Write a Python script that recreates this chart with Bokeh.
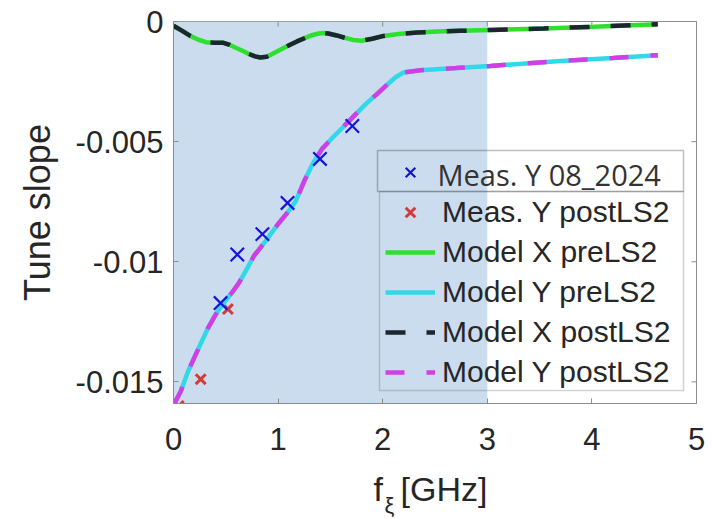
from bokeh.plotting import figure
from bokeh.layouts import column
from bokeh.models import (Range1d, FixedTicker, BoxAnnotation, Label, Legend, LegendItem)
from bokeh.embed import file_html
from bokeh.resources import INLINE

# ---------------- data ----------------
x_ticks = [0, 1, 2, 3, 4, 5]
x_tick_labels = ["0", "1", "2", "3", "4", "5"]
y_ticks = [0.0, -0.005, -0.01, -0.015]
y_tick_labels = ["0", "-0.005", "-0.01", "-0.015"]
x_min, x_max = 0.0, 5.0
y_min, y_max = -0.0159, 0.0

shade_start = 0.0
shade_end = 3.0

model_x_f = [0.0, 0.08, 0.16, 0.24, 0.31, 0.39, 0.47, 0.53, 0.59, 0.66, 0.72, 0.78, 0.83,
             0.89, 0.94, 1.02, 1.10, 1.18, 1.26, 1.33, 1.39, 1.44, 1.48, 1.56, 1.64, 1.72,
             1.80, 1.90, 2.01, 2.15, 2.33, 2.52, 2.74, 3.03, 3.54, 4.02, 4.63]
model_x_s = [-0.00018, -0.00038, -0.0006, -0.00076, -0.00086, -0.00088, -0.00088, -0.00096,
             -0.00108, -0.00122, -0.00135, -0.00145, -0.0015, -0.00147, -0.00136, -0.00118,
             -0.00100, -0.00083, -0.00068, -0.00056, -0.0005, -0.00048, -0.0005, -0.00058,
             -0.00068, -0.00077, -0.0008, -0.00072, -0.0006, -0.00052, -0.00046, -0.00042,
             -0.00039, -0.00035, -0.00029, -0.00022, -0.00011]

model_y_f = [0.0, 0.02, 0.07, 0.14, 0.24, 0.33, 0.40, 0.47, 0.57, 0.63, 0.69, 0.77, 0.88,
             1.0, 1.1, 1.17, 1.25, 1.33, 1.42, 1.52, 1.62, 1.71, 1.84, 1.95, 2.05, 2.12,
             2.2, 2.36, 2.7, 3.03, 3.7, 4.2, 4.63]
model_y_s = [-0.0159, -0.0158, -0.01539, -0.01455, -0.0136, -0.01276, -0.01222, -0.01177,
             -0.01122, -0.01085, -0.01039, -0.00975, -0.00914, -0.00843, -0.0079, -0.00747,
             -0.00664, -0.00593, -0.0053, -0.00484, -0.0044, -0.004, -0.00343, -0.003,
             -0.0026, -0.00233, -0.00212, -0.00203, -0.00194, -0.00185, -0.00164, -0.00152,
             -0.0014]

meas_y_0824_f = [0.45, 0.61, 0.85, 1.09, 1.40, 1.71]
meas_y_0824_s = [-0.01172, -0.00970, -0.00885, -0.00755, -0.00572, -0.00435]

meas_y_post_f = [0.05, 0.26, 0.52]
meas_y_post_s = [-0.01600, -0.01489, -0.01197]

# ---------------- figure ----------------
p = figure(width=712, height=460, output_backend="svg", toolbar_location=None,
           x_range=Range1d(x_min, x_max), y_range=Range1d(y_min, y_max),
           min_border_left=173, min_border_right=16, min_border_top=21,
           min_border_bottom=57)
p.grid.visible = False
p.background_fill_color = "white"
p.border_fill_color = "white"
p.outline_line_color = "#8c8c8c"
p.outline_line_width = 1

p.add_layout(BoxAnnotation(left=shade_start, right=shade_end, fill_color="#cbdcee",
                           fill_alpha=1.0, line_alpha=0, level="underlay"))

tick_font = "Liberation Sans"
axis_grey = "#8c8c8c"
label_col = "#262626"

xa = p.xaxis[0]
xa.ticker = FixedTicker(ticks=x_ticks)
xa.major_label_overrides = {t: l for t, l in zip(x_ticks, x_tick_labels)}
ya = p.yaxis[0]
ya.ticker = FixedTicker(ticks=y_ticks)
ya.major_label_overrides = {t: l for t, l in zip(y_ticks, y_tick_labels)}
for ax in (xa, ya):
    ax.axis_line_color = axis_grey
    ax.major_tick_line_color = axis_grey
    ax.major_tick_in = 5
    ax.major_tick_out = 0
    ax.minor_tick_line_color = None
    ax.major_label_text_font = tick_font
    ax.major_label_text_font_size = "31px"
    ax.major_label_text_color = label_col
xa.major_label_standoff = 24
ya.major_label_standoff = 10
ya.axis_label = "Tune slope"
ya.axis_label_text_font = tick_font
ya.axis_label_text_font_size = "36px"
ya.axis_label_text_font_style = "normal"
ya.axis_label_text_color = label_col
ya.axis_label_standoff = 15

# inward ticks on the top and right edges of the box (half of each dash is clipped)
p.scatter(x_ticks, [y_max] * len(x_ticks), marker="dash", angle=1.5708, size=10,
          line_color=axis_grey, line_width=1)
p.scatter([x_max] * len(y_ticks), y_ticks, marker="dash", size=10,
          line_color=axis_grey, line_width=1)

# ---------------- series ----------------
green = "#2ee02e"
cyan = "#30d8e8"
dark = "#1b2631"
magenta = "#d23ee6"

r_red = p.scatter(meas_y_post_f, meas_y_post_s, marker="x", size=14, line_width=3,
                  line_color="#d43a3a")
r_gx = p.line(model_x_f, model_x_s, line_color=green, line_width=4.5)
r_cy = p.line(model_y_f, model_y_s, line_color=cyan, line_width=4.5)
r_kx = p.line(model_x_f, model_x_s, line_color=dark, line_width=4.5, line_dash="20 21")
r_my = p.line(model_y_f, model_y_s, line_color=magenta, line_width=4.5, line_dash="19 22")
r_blue = p.scatter(meas_y_0824_f, meas_y_0824_s, marker="x", size=19, line_width=2.2,
                   line_color="#1414dc")

legend = Legend(items=[
    LegendItem(label=" ", renderers=[r_blue]),
    LegendItem(label="Meas. Y postLS2", renderers=[r_red]),
    LegendItem(label="Model X preLS2", renderers=[r_gx]),
    LegendItem(label="Model Y preLS2", renderers=[r_cy]),
    LegendItem(label="Model X postLS2", renderers=[r_kx]),
    LegendItem(label="Model Y postLS2", renderers=[r_my]),
], location=(210, 12))
legend.margin = 0
legend.padding = 2
legend.spacing = 6
legend.label_height = 34
legend.glyph_height = 34
legend.glyph_width = 50
legend.label_standoff = 7
legend.label_width = 236
legend.label_text_font = tick_font
legend.label_text_font_size = "30px"
legend.label_text_color = label_col
legend.background_fill_alpha = 0
legend.border_line_alpha = 0
p.add_layout(legend, "center")

# legend frames and the pasted first entry
p.add_layout(BoxAnnotation(left=206, right=510, top=212, bottom=13,
                           left_units="screen", right_units="screen",
                           top_units="screen", bottom_units="screen",
                           fill_alpha=0, line_color="#6a6a6a", line_width=1.5))
p.add_layout(BoxAnnotation(left=204, right=510, top=253, bottom=212,
                           left_units="screen", right_units="screen",
                           top_units="screen", bottom_units="screen",
                           fill_alpha=0, line_color="#2a2a2a", line_width=1.5))
p.add_layout(Label(x=264, y=229, x_units="screen", y_units="screen",
                   text="Meas. Y 08_2024", text_font="Open Sans",
                   text_font_size="29px", text_color="#333333",
                   text_baseline="middle"))

# ---------------- x axis title strip:  f_xi [GHz] ----------------
# (the strip's frame is aligned with the main frame, which starts 173 px from the left)
q = figure(width=712, height=59, output_backend="svg", toolbar_location=None,
           x_range=Range1d(0, 712), y_range=Range1d(0, 59),
           x_axis_location=None, y_axis_location=None, min_border=0)
q.grid.visible = False
q.outline_line_color = None
q.background_fill_color = "white"
q.border_fill_color = "white"
q.add_layout(Label(x=200, y=31, x_units="screen", y_units="screen", text="f",
                   text_font=tick_font, text_font_size="34px", text_color=label_col,
                   text_baseline="alphabetic"))
q.add_layout(Label(x=211, y=14, x_units="screen", y_units="screen", text="ξ",
                   text_font=tick_font, text_font_size="22px", text_color=label_col,
                   text_baseline="alphabetic"))
q.add_layout(Label(x=227, y=31, x_units="screen", y_units="screen", text="[GHz]",
                   text_font=tick_font, text_font_size="34px", text_color=label_col,
                   text_baseline="alphabetic"))

layout = column(p, q, spacing=0)
open("out.html", "w").write(file_html(layout, INLINE))
